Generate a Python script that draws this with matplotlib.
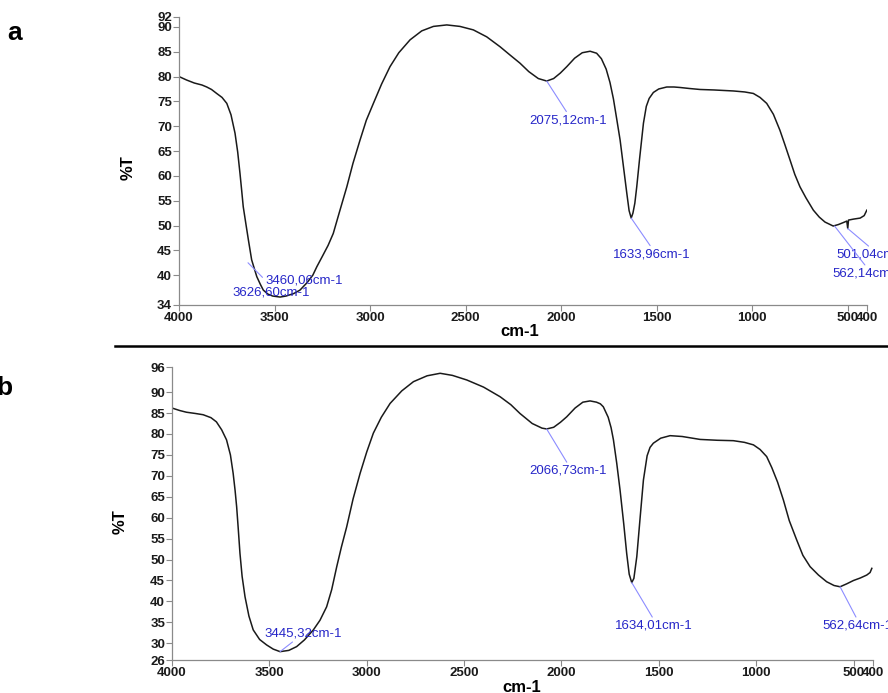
import matplotlib
matplotlib.use("Agg")
import matplotlib.pyplot as plt
from matplotlib.lines import Line2D

plt.rcParams['font.family'] = ['Liberation Sans', 'DejaVu Sans']

# spectrum a (wavenumber cm-1, %T)
wn_a = [4000, 3960, 3920, 3880, 3855, 3830, 3803, 3775, 3750, 3728, 3707, 3693,
        3681, 3672, 3664, 3650, 3637, 3620, 3605, 3593, 3575, 3559, 3535, 3510,
        3471, 3440, 3400, 3367, 3330, 3300, 3279, 3250, 3220, 3193, 3160, 3122,
        3090, 3053, 3020, 2983, 2940, 2896, 2850, 2791, 2730, 2669, 2599, 2530,
        2460, 2390, 2320, 2270, 2216, 2170, 2120, 2076, 2040, 2005, 1971, 1930,
        1890, 1849, 1815, 1790, 1765, 1745, 1727, 1710, 1692, 1675, 1657, 1645,
        1634, 1625, 1615, 1605, 1590, 1570, 1555, 1540, 1518, 1490, 1448, 1410,
        1378, 1330, 1274, 1200, 1099, 1040, 995, 960, 925, 890, 856, 830, 803,
        778, 751, 720, 681, 650, 620, 577, 550, 524, 506, 501, 497, 470, 436,
        415, 401]
t_a = [80.0, 79.3, 78.7, 78.3, 77.9, 77.4, 76.6, 75.8, 74.6, 72.3, 68.6, 64.8,
       60.5, 57.0, 53.8, 50.3, 47.1, 43.1, 41.2, 39.7, 38.2, 37.0, 36.2, 35.8,
       35.6, 35.8, 36.3, 37.0, 38.5, 40.0, 41.7, 43.8, 46.0, 48.4, 52.8, 57.8,
       62.5, 67.2, 71.2, 74.6, 78.5, 82.0, 84.8, 87.4, 89.2, 90.1, 90.4, 90.1,
       89.4, 88.0, 86.0, 84.4, 82.7, 81.0, 79.6, 79.1, 79.6, 80.7, 82.0, 83.7,
       84.8, 85.1, 84.7, 83.6, 81.5, 78.8, 75.5, 71.5, 67.2, 62.0, 56.5, 53.0,
       51.5, 52.5, 54.5, 57.8, 63.5, 70.6, 74.0, 75.6, 76.8, 77.5, 77.9, 77.9,
       77.8, 77.6, 77.4, 77.3, 77.1, 76.9, 76.6, 75.8, 74.6, 72.4, 69.2, 66.3, 63.2,
       60.3, 57.8, 55.6, 53.1, 51.7, 50.7, 49.9, 50.2, 50.6, 50.9, 49.4, 51.1, 51.3, 51.5,
       52.0, 53.1]

# spectrum b
wn_b = [4000, 3960, 3926, 3880, 3840, 3800, 3772, 3745, 3720, 3700, 3686, 3676,
        3668, 3660, 3651, 3640, 3625, 3605, 3583, 3550, 3514, 3480, 3445, 3400,
        3360, 3320, 3274, 3240, 3206, 3180, 3154, 3130, 3103, 3070, 3034, 3000,
        2966, 2925, 2880, 2820, 2760, 2690, 2623, 2560, 2486, 2400, 2315, 2260,
        2213, 2150, 2100, 2076, 2040, 2005, 1973, 1930, 1890, 1853, 1820, 1800,
        1785, 1760, 1745, 1733, 1716, 1699, 1680, 1665, 1652, 1639, 1628, 1613,
        1595, 1579, 1560, 1545, 1528, 1490, 1442, 1380, 1288, 1200, 1117, 1060,
        1014, 980, 946, 920, 890, 860, 830, 792, 760, 723, 680, 638, 600, 569,
        535, 500, 465, 432, 415, 406]
t_b = [86.2, 85.6, 85.2, 84.9, 84.6, 83.9, 82.9, 81.0, 78.6, 75.0, 70.6, 66.5,
       62.6, 57.5, 51.5, 46.0, 41.1, 36.5, 33.2, 30.9, 29.6, 28.6, 28.0, 28.3,
       29.2, 30.8, 33.2, 35.5, 38.7, 42.8, 48.3, 53.0, 57.8, 64.5, 70.6, 75.7,
       80.2, 84.0, 87.3, 90.3, 92.5, 93.9, 94.5, 94.0, 92.9, 91.2, 88.9, 87.0,
       84.9, 82.5, 81.4, 81.2, 81.6, 82.8, 84.1, 86.2, 87.6, 87.9, 87.6, 87.2,
       86.5, 84.0, 81.5, 78.6, 73.0, 66.6, 58.5, 51.5, 46.5, 44.5, 45.5, 50.7,
       60.5, 69.0, 74.8, 76.8, 77.8, 79.0, 79.6, 79.4, 78.7, 78.5, 78.4, 78.0,
       77.4, 76.3, 74.6, 72.0, 68.5, 64.2, 59.3, 54.7, 51.0, 48.3, 46.3, 44.7, 43.8, 43.5,
       44.2, 45.0, 45.6, 46.3, 46.9, 47.9]

ann_a = ["3460,06cm-1", "3626,60cm-1", "2075,12cm-1", "1633,96cm-1", "501,04cm-1", "562,14cm-1"]
ann_b = ["3445,32cm-1", "2066,73cm-1", "1634,01cm-1", "562,64cm-1"]

fig = plt.figure(figsize=(8.88, 6.93), dpi=100)
ax1 = fig.add_axes([0.2016, 0.5599, 0.7748, 0.4156])
ax2 = fig.add_axes([0.1937, 0.0476, 0.7894, 0.4228])

blue = '#2626c8'
lblue = '#8c8cff'


def style(ax, ylo, yhi, yt):
    ax.set_xlim(4000, 400)
    ax.set_ylim(ylo, yhi)
    ax.set_xticks([4000, 3500, 3000, 2500, 2000, 1500, 1000, 500, 400])
    ax.set_yticks(yt)
    for s in ['top', 'right']:
        ax.spines[s].set_visible(False)
    for s in ['left', 'bottom']:
        ax.spines[s].set_color('#8a8a8a')
        ax.spines[s].set_linewidth(0.9)
    ax.tick_params(direction='out', length=4, width=0.8, color='#8a8a8a',
                   labelsize=9.5, labelcolor='#1a1a1a', pad=1)
    for lab in ax.get_xticklabels() + ax.get_yticklabels():
        lab.set_fontweight('bold')


style(ax1, 34, 92, [34, 40, 45, 50, 55, 60, 65, 70, 75, 80, 85, 90, 92])
style(ax2, 26, 96, [26, 30, 35, 40, 45, 50, 55, 60, 65, 70, 75, 80, 85, 90, 96])

ax1.plot(wn_a, t_a, color='#1a1a1a', lw=1.1)
ax2.plot(wn_b, t_b, color='#1a1a1a', lw=1.1)


def note(ax, txt, xy, xyt, ha='center', va='top', relpos=(0.5, 1.0)):
    ax.annotate(txt, xy=xy, xytext=xyt, textcoords='data', color=blue,
                fontsize=9.5, ha=ha, va=va, annotation_clip=False,
                arrowprops=dict(arrowstyle='-', color=lblue, lw=0.8,
                                shrinkA=0, shrinkB=0, relpos=relpos))


note(ax1, ann_a[0], (3639, 42.5), (3346, 39.0), va='center', relpos=(0.0, 0.5))
ax1.text(3518, 36.6, ann_a[1], color=blue, fontsize=9.5, ha='center', va='center')
note(ax1, ann_a[2], (2076, 79.1), (1964, 72.4))
note(ax1, ann_a[3], (1634, 51.5), (1525, 45.4))
note(ax1, ann_a[4], (501, 49.4), (375, 45.3))
note(ax1, ann_a[5], (570, 49.9), (400, 41.5))

note(ax2, ann_b[0], (3445, 28.0), (3327, 32.4), va='center', relpos=(0.45, 0.2))
note(ax2, ann_b[1], (2076, 81.2), (1964, 72.6))
note(ax2, ann_b[2], (1639, 44.5), (1525, 35.6))
note(ax2, ann_b[3], (569, 43.5), (480, 35.6))

# axis titles and panel letters
fig.text(128 / 888, 1 - 168 / 693, '%T', rotation=90, fontsize=12, fontweight='bold',
         ha='center', va='center')
fig.text(120 / 888, 1 - 522 / 693, '%T', rotation=90, fontsize=12, fontweight='bold',
         ha='center', va='center')
fig.text(520 / 888, 1 - 331 / 693, 'cm-1', fontsize=12, fontweight='bold',
         ha='center', va='center')
fig.text(522 / 888, 1 - 687 / 693, 'cm-1', fontsize=12, fontweight='bold',
         ha='center', va='center')
fig.text(15 / 888, 1 - 33 / 693, 'a', fontsize=19, fontweight='bold', ha='center', va='center')
fig.text(4 / 888, 1 - 388 / 693, 'b', fontsize=19, fontweight='bold', ha='center', va='center')

fig.add_artist(Line2D([115 / 888, 1.0], [1 - 346 / 693, 1 - 346 / 693],
                      transform=fig.transFigure, color='black', lw=1.8))

fig.savefig('out.png', dpi=100)
